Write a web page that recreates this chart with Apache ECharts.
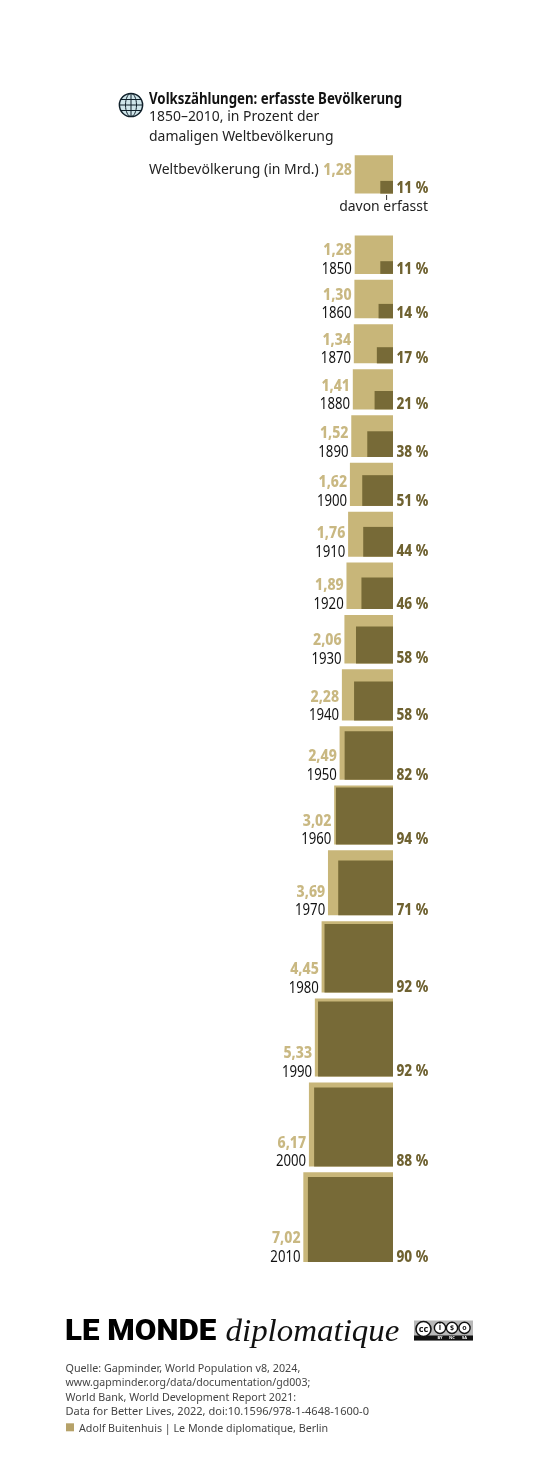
<!DOCTYPE html>
<html><head><meta charset="utf-8">
<style>html,body{margin:0;padding:0;background:#fff}#c{width:547px;height:1474px}</style>
<script src="https://cdn.jsdelivr.net/npm/echarts@6/dist/echarts.min.js"></script>
</head><body><div id="c"></div>
<script>
const years=[1850,1860,1870,1880,1890,1900,1910,1920,1930,1940,1950,1960,1970,1980,1990,2000,2010];
const population=[1.28,1.30,1.34,1.41,1.52,1.62,1.76,1.89,2.06,2.28,2.49,3.02,3.69,4.45,5.33,6.17,7.02];
const counted=[11,14,17,21,38,51,44,46,58,58,82,94,71,92,92,88,90];
const keyPopulation=1.28, keyCounted=11;
const titleLines=['Volkszählungen: erfasste Bevölkerung','1850–2010, in Prozent der','damaligen Weltbevölkerung'];
const sourceLines=['Quelle: Gapminder, World Population v8, 2024,','www.gapminder.org/data/documentation/gd003;','World Bank, World Development Report 2021:','Data for Better Lives, 2022, doi:10.1596/978-1-4648-1600-0'];
const credit='Adolf Buitenhuis | Le Monde diplomatique, Berlin';

const LIGHT='#c8b679',DARK='#776a37',LIGHTTEXT='#c9b882',DARKTEXT='#6f6231',INK='#111',FONT='"Noto Sans"';
const PX=33.85;                 // pixels per sqrt(Mrd.)
const GAP=5.85/PX, KEYGAP=42/PX;
const side=v=>Math.sqrt(v);
const fmt=v=>v.toFixed(2).replace('.',',');
// rows: stack squares from the top, the key first
const rows=[];let cursor=side(keyPopulation);
rows.push({pop:keyPopulation,pct:keyCounted,bottom:cursor,key:true});
cursor+=KEYGAP;
years.forEach((yr,i)=>{cursor+=side(population[i]);rows.push({year:yr,pop:population[i],pct:counted[i],bottom:cursor});cursor+=GAP;});
const total=cursor-GAP;
const gridTop=155.3,gridRight=393;
const chart=echarts.init(document.getElementById('c'),null,{renderer:'canvas'});
// y is the baseline of the text
function T(x,y,text,fill,weight,size,sx,align,family){
  return {type:'text',x,y:y-size*0.8,scaleX:sx,silent:true,z:5,style:{text,fill,font:`${weight} ${size}px ${family||FONT}`,textAlign:align||'left',textVerticalAlign:'top'}};
}
const globe={type:'group',x:131,y:105,silent:true,children:[
  {type:'circle',shape:{cx:0,cy:0,r:11.6},style:{fill:'#cfe5ea',stroke:'#10202a',lineWidth:1.5}},
  {type:'ellipse',shape:{cx:0,cy:0,rx:5.5,ry:11.6},style:{fill:'none',stroke:'#10202a',lineWidth:1}},
  {type:'line',shape:{x1:0,y1:-11.6,x2:0,y2:11.6},style:{stroke:'#10202a',lineWidth:1}},
  {type:'line',shape:{x1:-11.6,y1:0,x2:11.6,y2:0},style:{stroke:'#10202a',lineWidth:1}},
  {type:'line',shape:{x1:-10,y1:-5.5,x2:10,y2:-5.5},style:{stroke:'#10202a',lineWidth:1}},
  {type:'line',shape:{x1:-10,y1:5.5,x2:10,y2:5.5},style:{stroke:'#10202a',lineWidth:1}}
]};
const ccCircle=(cx)=>({type:'circle',shape:{cx,cy:7.4,r:5.6},style:{fill:'#fff',stroke:'#111',lineWidth:1.4}});
const mid=(x,y,text,fill,font)=>({type:'text',x,y,style:{text,fill,font,textAlign:'center',textVerticalAlign:'middle'}});
const badge={type:'group',x:414,y:1320.5,silent:true,children:[
  {type:'rect',shape:{x:0,y:0,width:59,height:20},style:{fill:'#b8b8b8'}},
  {type:'rect',shape:{x:0,y:15,width:59,height:5},style:{fill:'#111'}},
  {type:'circle',shape:{cx:9.5,cy:8.5,r:7.5},style:{fill:'#fff',stroke:'#111',lineWidth:1.6}},
  mid(9.5,8.5,'cc','#111','bold 9px '+FONT),
  ccCircle(26),ccCircle(38),ccCircle(50.5),
  mid(26,7.4,'i','#111','bold 8px '+FONT),
  mid(38,7.4,'$','#111','bold 7px '+FONT),
  mid(50.5,7.4,'o','#111','bold 7px '+FONT),
  mid(26,17.5,'BY','#fff','bold 4px '+FONT),
  mid(38,17.5,'NC','#fff','bold 4px '+FONT),
  mid(50.5,17.5,'SA','#fff','bold 4px '+FONT)
]};
const sourceY=[1371.5,1386,1400.5,1415];
const sourceX=[.935,.92,.93,.96];
const graphic=[
  globe,
  T(149,103.5,titleLines[0],INK,700,15.5,.855),
  T(149,121.7,titleLines[1],'#222',400,15,.93),
  T(149,141,titleLines[2],'#222',400,15,.93),
  T(149,174.5,'Weltbevölkerung (in Mrd.)','#222',400,15,.93),
  T(428,211.7,'davon erfasst','#222',400,15,.93,'right'),
  {type:'line',silent:true,shape:{x1:386.6,y1:195,x2:386.6,y2:200},style:{stroke:'#333',lineWidth:1}},
  T(65,1341,'LE MONDE','#000',900,30,1.045,'left','Roboto'),
  T(225.5,1341.7,'diplomatique','#111','italic 400',32,1.03,'left','"Liberation Serif"'),
  badge,
  ...sourceLines.map((s,i)=>T(65.5,sourceY[i],s,'#444',400,11.5,sourceX[i])),
  {type:'rect',silent:true,shape:{x:66,y:1423.3,width:8,height:8},style:{fill:'#b6a269'}},
  T(79,1431.5,credit,'#444',400,11.5,.93)
];
chart.setOption({
  animation:false,
  grid:{left:0,width:gridRight,top:gridTop,height:total*PX},
  xAxis:{type:'value',min:-gridRight/PX,max:0,show:false},
  yAxis:{type:'value',min:0,max:total,inverse:true,show:false},
  graphic,
  series:[{
    type:'custom',coordinateSystem:'cartesian2d',clip:false,
    data:rows.map((r,i)=>[-side(r.pop),r.bottom,i]),
    encode:{x:0,y:1},
    renderItem(params,api){
      const r=rows[api.value(2)];
      const br=api.coord([0,r.bottom]);
      const outer=side(r.pop);
      const inner=side(r.pop*r.pct/100);
      const tl=api.coord([-outer,r.bottom-outer]);
      const il=api.coord([-inner,r.bottom-inner]);
      const kids=[
        {type:'rect',shape:{x:tl[0],y:tl[1],width:br[0]-tl[0],height:br[1]-tl[1]},style:{fill:LIGHT}},
        {type:'rect',shape:{x:il[0],y:il[1],width:br[0]-il[0],height:br[1]-il[1]},style:{fill:DARK}},
      ];
      const lx=tl[0]-2.8;
      kids.push(T(lx,br[1]-18.5,fmt(r.pop),LIGHTTEXT,800,16,.88,'right'));
      if(!r.key) kids.push(T(lx,br[1],String(r.year),'#111',400,15.5,.85,'right'));
      kids.push(T(396.5,br[1],r.pct+' %',DARKTEXT,800,16,.85,'left'));
      return {type:'group',children:kids};
    }
  }]
});
</script></body></html>
